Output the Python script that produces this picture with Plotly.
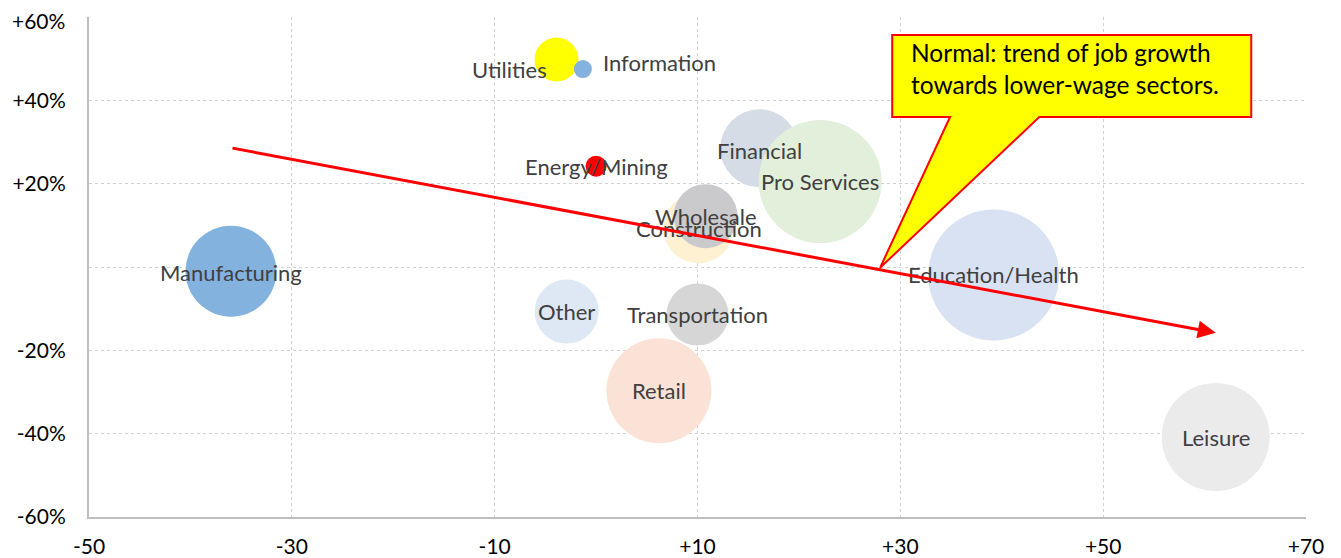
import plotly.graph_objects as go

# ---------------- data ----------------
sectors = ["Manufacturing", "Utilities", "Information", "Energy/Mining", "Construction",
           "Wholesale", "Financial", "Pro Services", "Education/Health", "Other",
           "Retail", "Transportation", "Leisure"]
wage_change = [-36.0, -3.9, -1.3, 0.0, 10.1, 10.8, 16.1, 22.1, 39.2, -2.9, 6.2, 10.0, 61.1]
job_growth = [-1.0, 49.8, 47.5, 24.2, 9.3, 12.2, 28.5, 20.5, -1.9, -10.7, -29.7, -11.4, -40.8]
bubble_size = [91, 44, 18, 21, 70, 64, 78, 123, 131, 64, 105, 62, 108]

x_ticks = [-50, -30, -10, 10, 30, 50, 70]
x_tick_labels = ["-50", "-30", "-10", "+10", "+30", "+50", "+70"]
y_ticks = [-60, -40, -20, 0, 20, 40, 60]
y_tick_labels = ["-60%", "-40%", "-20%", "", "+20%", "+40%", "+60%"]

trend_start = (-36.0, 28.6)
trend_end = (61.1, -15.8)
callout_text = "Normal: trend of job growth<br>towards lower-wage sectors."

# ---------------- styles ----------------
colors = ["#84B2DF", "#FFFF00", "#84B2DF", "#FF0000", "#FEF1D1",
          "#CACACC", "#D5DCE6", "#E2EFDA", "#D9E2F3", "#DEE8F5",
          "#FAE3D6", "#D6D6D6", "#EBEBEB"]
label_anchor = ["center", "right", "left", "center", "center", "center", "center",
                "center", "center", "center", "center", "center", "center"]
label_dx = [0, -8, 18, 0, 0, 0, 0, 0, 0, 0, 0, 0, 0]
label_dy = [-1, -10, 7, 0, 0, 0, -2, 0, 0, 0, 0, 0, 0]

FONT = "Lato, Carlito, Calibri, sans-serif"
TICKFONT = dict(family=FONT, size=21, color="#000000")

fig = go.Figure()
fig.add_trace(go.Scatter(
    x=wage_change, y=job_growth, mode="markers",
    marker=dict(size=bubble_size, sizemode="diameter", color=colors, opacity=1,
                line=dict(width=0)),
    hovertext=sectors, hoverinfo="text", showlegend=False, cliponaxis=False,
))

annotations = []
for s, x, y, a, dx, dy in zip(sectors, wage_change, job_growth, label_anchor, label_dx, label_dy):
    annotations.append(dict(
        x=x, y=y, xref="x", yref="y", text=s, showarrow=False,
        xanchor=a, yanchor="middle", xshift=dx, yshift=dy,
        font=dict(family=FONT, size=22, color="#404040"),
    ))

# trend arrow
annotations.append(dict(
    x=trend_end[0], y=trend_end[1], ax=trend_start[0], ay=trend_start[1],
    xref="x", yref="y", axref="x", ayref="y", text="", showarrow=True,
    arrowhead=2, arrowsize=1.2, arrowwidth=3, arrowcolor="#FF0000", standoff=0,
))

# callout box (in axis coordinates)
bx0, bx1, by0, by1 = 29.2, 64.6, 36.0, 55.7
px0, px1, tipx, tipy = 34.9, 43.7, 28.0, -0.2
path = (f"M {bx0},{by1} L {bx1},{by1} L {bx1},{by0} L {px1},{by0} "
        f"L {tipx},{tipy} L {px0},{by0} L {bx0},{by0} Z")
shapes = [dict(type="path", path=path, xref="x", yref="y", fillcolor="#FFFF00",
               line=dict(color="#FF0000", width=2), layer="above")]

annotations.append(dict(
    x=bx0, y=by1, xref="x", yref="y", text=callout_text, showarrow=False,
    xanchor="left", yanchor="top", align="left", xshift=17, yshift=-1,
    font=dict(family=FONT, size=24.5, color="#000000"),
))

# the top y tick label is drawn as an annotation nudged just inside the page edge
top_label = y_tick_labels[-1]
shown_y_labels = y_tick_labels[:-1] + [""]
annotations.append(dict(
    x=0, y=y_ticks[-1], xref="paper", yref="y", text=top_label, showarrow=False,
    xanchor="right", yanchor="middle", xshift=-22, yshift=-3, font=TICKFONT,
))

fig.update_layout(
    width=1333, height=550,
    margin=dict(l=81, r=35, t=9, b=41, autoexpand=False),
    paper_bgcolor="white", plot_bgcolor="white",
    font=dict(family=FONT, size=21, color="#000000"),
    annotations=annotations, shapes=shapes,
    xaxis=dict(range=[-50, 70], tickvals=x_ticks, ticktext=x_tick_labels,
               showgrid=True, gridcolor="#D0D0D0", griddash="dot", gridwidth=1,
               showline=True, linecolor="#BFBFBF", linewidth=2, zeroline=False,
               ticks="outside", ticklen=10, tickcolor="rgba(0,0,0,0)", automargin=False,
               ticklabeloverflow="allow", tickfont=TICKFONT, fixedrange=True),
    yaxis=dict(range=[-60, 60], tickvals=y_ticks, ticktext=shown_y_labels,
               showgrid=True, gridcolor="#D0D0D0", griddash="dot", gridwidth=1,
               showline=True, linecolor="#BFBFBF", linewidth=2, zeroline=False,
               ticks="outside", ticklen=17, tickcolor="rgba(0,0,0,0)", automargin=False,
               ticklabeloverflow="allow", tickfont=TICKFONT, fixedrange=True),
)

fig.write_html("out.html")
